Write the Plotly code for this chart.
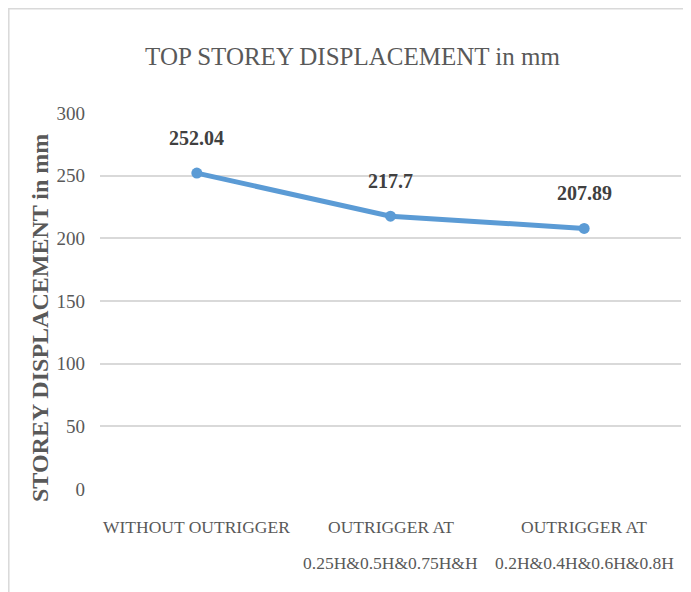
import plotly.graph_objects as go

categories = ["WITHOUT OUTRIGGER", "OUTRIGGER AT 0.25H&0.5H&0.75H&H", "OUTRIGGER AT 0.2H&0.4H&0.6H&0.8H"]
cat_line1 = ["WITHOUT OUTRIGGER", "OUTRIGGER AT", "OUTRIGGER AT"]
cat_line2 = ["", "0.25H&0.5H&0.75H&H", "0.2H&0.4H&0.6H&0.8H"]
values = [252.04, 217.7, 207.89]
labels = ["252.04", "217.7", "207.89"]
y_ticks = [0, 50, 100, 150, 200, 250, 300]

# page has an 8px body margin, so the figure is drawn 8px in from the corner
OFF = 8
W, H = 691 - OFF, 592 - OFF
L, R, T = 100 - OFF, 10, 113 - OFF
B = H - (489 - OFF)
pw, ph = W - L - R, H - T - B

serif = "Liberation Serif"

fig = go.Figure()
fig.add_trace(go.Scatter(
    x=categories, y=values, mode="lines+markers",
    line=dict(color="#5B9BD5", width=5),
    marker=dict(color="#5B9BD5", size=11),
    cliponaxis=False, hoverinfo="skip", showlegend=False,
))

for c, v, t in zip(categories, values, labels):
    fig.add_annotation(x=c, y=v, text=t, showarrow=False, yshift=35,
                       font=dict(family=serif, size=20, color="#404040", weight="bold"))

for c, l1, l2 in zip(categories, cat_line1, cat_line2):
    fig.add_annotation(x=c, xref="x", y=0, yref="paper", text=l1, showarrow=False,
                       yanchor="middle", yshift=-38,
                       font=dict(family=serif, size=17.5, color="#595959"))
    if l2:
        fig.add_annotation(x=c, xref="x", y=0, yref="paper", text=l2, showarrow=False,
                           yanchor="middle", yshift=-74,
                           font=dict(family=serif, size=17.5, color="#595959"))

fig.update_layout(
    width=W, height=H,
    margin=dict(l=L, r=R, t=T, b=B, autoexpand=False),
    paper_bgcolor="white", plot_bgcolor="white",
    title=dict(text="TOP STOREY DISPLACEMENT in mm", x=((150 + 555) / 2 - OFF) / W, xanchor="center",
               y=1 - (56 - OFF) / H, yanchor="middle",
               font=dict(family=serif, size=25, color="#595959")),
    xaxis=dict(range=[-0.5, 2.5], showgrid=False, showline=False, zeroline=False, ticks="",
               showticklabels=False),
    yaxis=dict(range=[0, 300], tickvals=y_ticks, showgrid=True, gridcolor="#D9D9D9", gridwidth=1.5,
               zeroline=False, showline=False, ticks="",
               tickfont=dict(family=serif, size=19, color="#595959"),
               ticklabelstandoff=14),
    shapes=[dict(type="rect", xref="paper", yref="paper",
                 x0=(0.8 - L) / pw, x1=(W + 20 - L) / pw,
                 y0=-(B + 20) / ph, y1=(H - 0.8 - B) / ph,
                 line=dict(color="#D9D9D9", width=1.5), fillcolor="rgba(0,0,0,0)", layer="below")],
)

fig.add_annotation(xref="paper", yref="paper", x=(40 - OFF - L) / pw, y=(489 - 318) / ph,
                   text="STOREY DISPLACEMENT in mm", textangle=-90, showarrow=False,
                   xanchor="center", yanchor="middle",
                   font=dict(family=serif, size=24, color="#595959", weight="bold"))

fig.write_html("out.html")
